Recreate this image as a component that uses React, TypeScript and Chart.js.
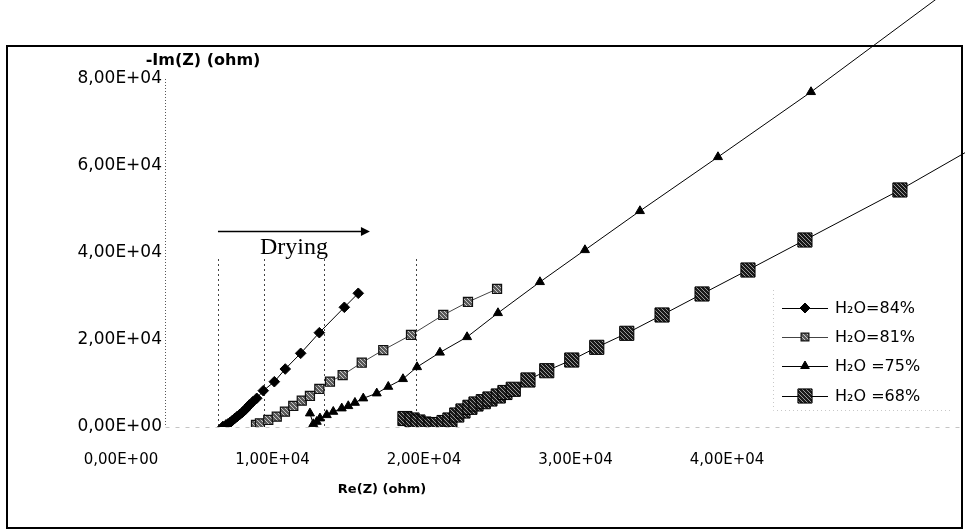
import React, { useEffect, useRef } from 'react';
import { Chart, registerables } from 'chart.js';
import { drawPoint } from 'chart.js/helpers';

Chart.register(...registerables);

// ---- data (Re(Z), -Im(Z) in ohm) ----
const xTicks = [0, 10000, 20000, 30000, 40000];
const yTicks = [0, 20000, 40000, 60000, 80000];
const seriesLabels = ['H\u2082O=84%', 'H\u2082O=81%', 'H\u2082O =75%', 'H\u2082O =68%'];

const re84 = [6730, 6930, 7050, 7190, 7350, 7520, 7680, 7850, 8020, 8180, 8320, 8470, 8700, 8960, 9390, 10120, 10840, 11860, 13090, 14740, 15660];
const im84 = [120, 460, 700, 990, 1500, 2000, 2450, 2920, 3400, 3910, 4450, 5060, 5800, 6600, 8350, 10410, 13330, 16940, 21680, 27520, 30740];

const re81 = [8910, 9170, 9720, 10280, 10820, 11370, 11930, 12470, 13090, 13790, 14630, 15890, 17310, 19140, 21270, 22900, 24820];
const im81 = [460, 850, 1610, 2370, 3520, 4830, 6050, 7130, 8740, 10410, 11950, 14780, 17700, 21150, 25750, 28740, 31730];

const re75 = [12470, 12690, 12920, 13130, 13580, 14010, 14570, 15000, 15440, 15990, 16880, 17640, 18610, 19540, 21050, 22840, 24880, 27650, 30620, 34250, 39400, 45540, 54710];
const im75 = [3150, 690, 1220, 2000, 2760, 3520, 4300, 4830, 5590, 6600, 7750, 9270, 11040, 13790, 17130, 20690, 26210, 33340, 40690, 49660, 62070, 77020, 100700];

const re68 = [18740, 19210, 19600, 20000, 20460, 20920, 21320, 21710, 22160, 22570, 23030, 23430, 23910, 24350, 24900, 25340, 25890, 26860, 28100, 29750, 31400, 33380, 35710, 38350, 41380, 45140, 51410, 58670];
const im68 = [1950, 1610, 1150, 690, 460, 570, 1030, 1610, 2760, 3680, 4530, 5290, 5820, 6440, 7130, 7930, 8670, 10810, 12940, 15400, 18320, 21540, 25750, 30580, 36090, 42990, 54490, 68970];

// "Drying" annotation (data units)
const dryingLinesRe = [6400, 9440, 13400, 19470];
const dryingLinesTopIm = 38620;
const arrowRe = [6400, 16430];
const arrowIm = 45060;
const dryingTextRe = 11420;
const dryingTextIm = 41150;

const fmtSci = (v: number) => {
  if (v === 0) return '0,00E+00';
  const e = Math.floor(Math.log10(Math.abs(v)));
  const m = v / Math.pow(10, e);
  return m.toFixed(2).replace('.', ',') + 'E' + (e >= 0 ? '+' : '-') + String(Math.abs(e)).padStart(2, '0');
};

const zip = (xs: number[], ys: number[]) => xs.map((x, i) => ({ x, y: ys[i] }));

function makePattern(bg: string, fg: string) {
  const c = document.createElement('canvas');
  c.width = 4; c.height = 4;
  const g = c.getContext('2d')!;
  g.fillStyle = bg; g.fillRect(0, 0, 4, 4);
  g.fillStyle = fg;
  g.fillRect(1, 0, 1, 1); g.fillRect(3, 2, 1, 1); g.fillRect(0, 3, 1, 1); g.fillRect(2, 1, 1, 1);
  return g.createPattern(c, 'repeat') as CanvasPattern;
}

const zeroPad = (s: any) => { s.paddingLeft = 0; s.paddingRight = 0; s.paddingTop = 0; s.paddingBottom = 0; };

export default function App() {
  const ref = useRef<HTMLCanvasElement>(null);
  useEffect(() => {
    const canvas = ref.current!;
    const ctx0 = canvas.getContext('2d')!;
    const pat81 = makePattern('#5a5a5a', '#c8c8c8');
    const pat68 = makePattern('#1a1a1a', '#9a9a9a');

    const decor = {
      id: 'decor',
      beforeDatasetsDraw(chart: any) {
        const { ctx } = chart;
        const xs = chart.scales.x, ys = chart.scales.y;
        ctx.save();
        ctx.strokeStyle = '#555';
        ctx.lineWidth = 1;
        ctx.setLineDash([1, 2]);
        const ax = Math.round(xs.left) + 0.5;
        ctx.beginPath();
        ctx.moveTo(ax, ys.getPixelForValue(yTicks[yTicks.length - 1]));
        ctx.lineTo(ax, ys.getPixelForValue(0));
        ctx.stroke();
        ctx.strokeStyle = '#c4c4c4';
        ctx.setLineDash([4, 6]);
        ctx.beginPath();
        const y0 = Math.round(ys.getPixelForValue(0)) + 0.5;
        ctx.moveTo(ax, y0);
        ctx.lineTo(962, y0);
        ctx.stroke();
        ctx.strokeStyle = '#444';
        ctx.setLineDash([2, 3]);
        dryingLinesRe.forEach((v) => {
          const px = Math.round(xs.getPixelForValue(v)) + 0.5;
          ctx.beginPath();
          ctx.moveTo(px, ys.getPixelForValue(dryingLinesTopIm));
          ctx.lineTo(px, ys.getPixelForValue(0));
          ctx.stroke();
        });
        ctx.restore();
      },
      afterDraw(chart: any) {
        const { ctx } = chart;
        const xs = chart.scales.x, ys = chart.scales.y;
        ctx.save();
        const ay = Math.round(ys.getPixelForValue(arrowIm)) + 0.5;
        const a0 = xs.getPixelForValue(arrowRe[0]);
        const a1 = xs.getPixelForValue(arrowRe[1]);
        ctx.strokeStyle = '#000';
        ctx.lineWidth = 1.5;
        ctx.beginPath(); ctx.moveTo(a0, ay); ctx.lineTo(a1 - 6, ay); ctx.stroke();
        ctx.fillStyle = '#000';
        ctx.beginPath(); ctx.moveTo(a1, ay); ctx.lineTo(a1 - 9, ay - 4.5); ctx.lineTo(a1 - 9, ay + 4.5); ctx.closePath(); ctx.fill();
        ctx.font = '24px "Liberation Serif", serif';
        ctx.textAlign = 'center';
        ctx.textBaseline = 'middle';
        ctx.fillText('Drying', xs.getPixelForValue(dryingTextRe), ys.getPixelForValue(dryingTextIm));
        ctx.font = 'bold 16px "DejaVu Sans"';
        ctx.fillText('-Im(Z) (ohm)', 203, 61);
        ctx.font = 'bold 13px "DejaVu Sans"';
        ctx.fillText('Re(Z) (ohm)', 382, 490);
        const rows = [308, 337, 366, 396];
        ctx.font = '16px "DejaVu Sans"';
        ctx.textAlign = 'left';
        chart.data.datasets.forEach((ds: any, i: number) => {
          const y = rows[i];
          ctx.strokeStyle = ds.borderColor;
          ctx.lineWidth = 1;
          ctx.setLineDash([]);
          ctx.beginPath(); ctx.moveTo(782, y + 0.5); ctx.lineTo(828, y + 0.5); ctx.stroke();
          ctx.fillStyle = ds.pointBackgroundColor;
          ctx.strokeStyle = ds.pointBorderColor;
          ctx.lineWidth = ds.pointBorderWidth;
          drawPoint(ctx, { pointStyle: ds.pointStyle, radius: ds.legendRadius, rotation: 0, borderWidth: ds.pointBorderWidth }, 805, y);
          ctx.fillStyle = '#000';
          ctx.fillText(ds.label, 835, y + 1);
        });
        ctx.strokeStyle = '#c8c8c8';
        ctx.lineWidth = 1;
        ctx.setLineDash([1, 3]);
        ctx.beginPath(); ctx.moveTo(773.5, 290); ctx.lineTo(773.5, 410.5); ctx.lineTo(950, 410.5); ctx.stroke();
        ctx.setLineDash([]);
        ctx.strokeStyle = '#000';
        ctx.lineWidth = 2;
        ctx.strokeRect(7, 46, 955, 482);
        ctx.restore();
      },
    };

    const chart = new Chart(ctx0, {
      type: 'scatter',
      data: {
        datasets: [
          { label: seriesLabels[0], data: zip(re84, im84), showLine: true, borderColor: '#000', borderWidth: 1,
            pointStyle: 'rectRot', pointRadius: 5.3, pointBackgroundColor: '#000', pointBorderColor: '#000', pointBorderWidth: 1, legendRadius: 5 } as any,
          { label: seriesLabels[1], data: zip(re81, im81), showLine: true, borderColor: '#444', borderWidth: 1,
            pointStyle: 'rect', pointRadius: 6.4, pointBackgroundColor: pat81, pointBorderColor: '#111', pointBorderWidth: 1.2, legendRadius: 5.5 } as any,
          { label: seriesLabels[2], data: zip(re75, im75), showLine: true, borderColor: '#000', borderWidth: 1,
            pointStyle: 'triangle', pointRadius: 5.2, pointBackgroundColor: '#000', pointBorderColor: '#000', pointBorderWidth: 1, legendRadius: 5 } as any,
          { label: seriesLabels[3], data: zip(re68, im68), showLine: true, borderColor: '#000', borderWidth: 1,
            pointStyle: 'rect', pointRadius: 10, pointBackgroundColor: pat68, pointBorderColor: '#000', pointBorderWidth: 1, legendRadius: 10 } as any,
        ],
      },
      options: {
        animation: false,
        responsive: true,
        maintainAspectRatio: false,
        layout: { padding: 0, autoPadding: false },
        plugins: { legend: { display: false }, tooltip: { enabled: false } },
        scales: {
          x: {
            type: 'linear',
            min: 2904,
            max: 55704,
            grid: { display: false, drawTicks: false },
            border: { display: false },
            ticks: { autoSkip: false, maxRotation: 0, padding: 24, color: '#000', font: { family: '"DejaVu Sans"', size: 15 }, callback: (v: any) => fmtSci(Number(v)) },
            afterBuildTicks: (s: any) => { s.ticks = xTicks.map((v) => ({ value: v })); },
            afterFit: (s: any) => { s.height = 105; zeroPad(s); },
          },
          y: {
            type: 'linear',
            min: 0,
            max: 98160,
            grid: { display: false, drawTicks: false },
            border: { display: false },
            ticks: { autoSkip: false, padding: 3, color: '#000', font: { family: '"DejaVu Sans"', size: 17 }, callback: (v: any) => fmtSci(Number(v)) },
            afterBuildTicks: (s: any) => { s.ticks = yTicks.map((v) => ({ value: v })); },
            afterFit: (s: any) => { s.width = 165; zeroPad(s); },
          },
        },
      },
      plugins: [decor],
    });
    return () => chart.destroy();
  }, []);

  return (
    <div style={{ position: 'fixed', left: 0, top: 0, width: 965, height: 532, background: '#fff' }}>
      <canvas ref={ref} />
    </div>
  );
}
